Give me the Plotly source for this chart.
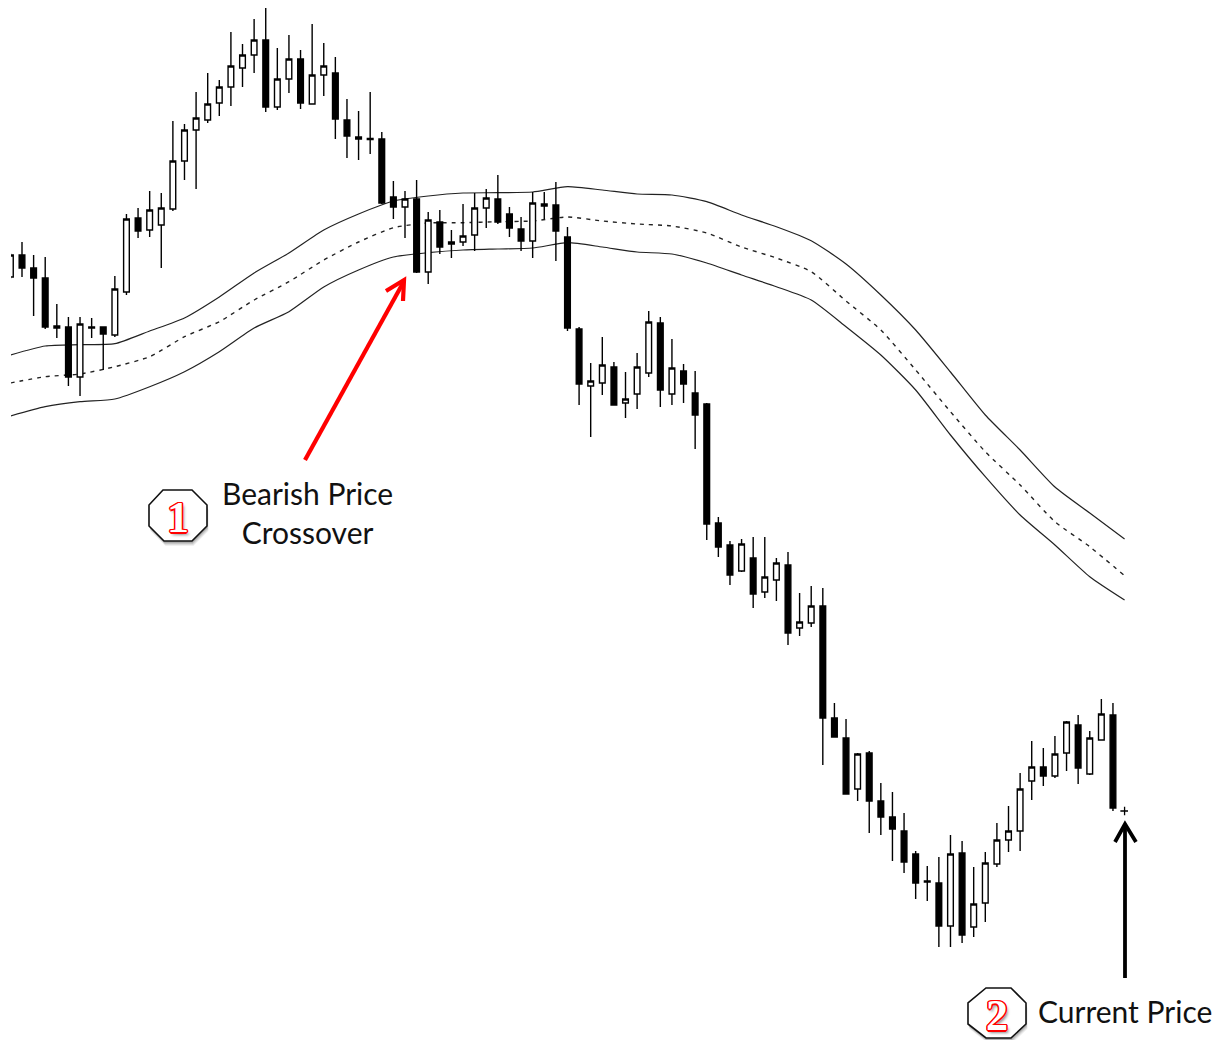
import plotly.graph_objects as go

# Chart scale: levels are read downward from the top of the picture, price = SCALE_TOP - level
SCALE_TOP = 1040
X0_PX, STEP_PX = 22.0, 11.606
W, H = 1222, 1040

candle_index = list(range(-1, 95))

kinds = ("W" "BBBBBWBBWW"  # -1, 0..9
         "BWWWWWWWWW"     # 10..19
         "WBWWBWWBBB"     # 20..29
         "BBBWBWBBWW"     # 30..39
         "WBBBWBBBBW"     # 40..49
         "WBWWWBWBBB"     # 50..59
         "BBWBWWBWWB"     # 60..69
         "BBWBBBBBBB"     # 70..79
         "WBWWWWWWBW"     # 80..89
         "WBWWB")         # 90..94

highs = [253, 242, 255, 257, 304, 317, 317, 318, 327, 276, 214,
         208, 191, 193, 121, 124, 92, 73, 80, 32, 44,
         19, 8, 48, 35, 50, 24, 43, 57, 99, 111,
         92, 132, 181, 191, 180, 212, 210, 230, 204, 193,
         189, 175, 207, 217, 192, 192, 182, 227, 327, 363,
         337, 362, 372, 353, 311, 317, 339, 364, 371, 403,
         517, 541, 539, 537, 537, 558, 552, 593, 586, 588,
         703, 719, 753, 751, 783, 792, 813, 851, 866, 857,
         835, 841, 867, 852, 823, 806, 773, 741, 748, 736,
         721, 715, 731, 699, 703]
body_tops = [255, 255, 268, 278, 326, 327, 324, 327, 327, 289, 219,
             218, 210, 208, 161, 130, 118, 104, 87, 66, 55,
             40, 40, 79, 59, 59, 75, 66, 73, 120, 137,
             138.5, 139, 197, 199, 199, 220, 222, 242, 236, 208,
             198, 199, 214, 229, 203, 204, 205, 237, 329, 381,
             365, 367, 399, 367, 322, 323, 368, 371, 393, 404,
             523, 545, 544, 558, 577, 563, 565, 622, 606, 606,
             718, 738, 754, 753, 801, 817, 831, 854, 881, 883,
             854, 853, 904, 863, 840, 831, 789, 767, 767, 754,
             722, 725, 738, 714, 715]
body_bottoms = [277, 268, 278, 327, 328, 377, 377, 328, 334, 335, 292,
                231, 230, 225, 209, 161, 130, 120, 103, 87, 68,
                55, 107, 107, 79, 103, 104, 75, 119, 136, 139,
                139.5, 203, 207, 207, 272, 272, 247, 244, 242, 235,
                208, 222, 228, 241, 241, 206, 231, 328, 384, 386,
                383, 405, 403, 394, 373, 390, 394, 384, 415, 524,
                547, 575, 571, 594, 592, 580, 633, 628, 623, 718,
                737, 794, 789, 801, 817, 829, 862, 883, 882, 926,
                926, 935, 927, 903, 864, 840, 831, 781, 776, 776,
                753, 768, 774, 740, 808]
lows = [279, 277, 316, 329, 338, 386, 396, 338, 370, 337, 295,
        238, 237, 268, 211, 180, 189, 123, 116, 106, 87,
        73, 112, 110, 93, 109, 104, 96, 139, 158, 160,
        154, 204, 219, 238, 273, 284, 254, 258, 246, 251,
        228, 224, 237, 251, 258, 219, 261, 331, 405, 437,
        395, 405, 418, 409, 377, 407, 405, 403, 449, 540,
        557, 585, 572, 608, 598, 601, 645, 636, 627, 765,
        737, 794, 801, 833, 835, 861, 873, 899, 901, 947,
        947, 943, 937, 922, 867, 852, 851, 800, 786, 778,
        771, 784, 775, 740, 811]

band_index = list(range(-1, 96, 3))
band_upper = [355, 346, 344.7, 343.7, 331, 318, 297, 273, 253, 230, 214, 201, 196, 193, 192.7, 192,
              186.7, 190, 194, 195, 201.7, 215, 226.7, 240.7, 264, 295, 330, 372, 415, 450, 487, 513, 539]
band_middle = [383, 376.7, 374, 366.7, 356.7, 336.7, 321.7, 300, 281.7, 260, 242, 227.7, 223, 222.7, 221.7, 221,
               217, 221, 224, 226, 233, 247, 258, 271.7, 301, 330, 370, 411.7, 451.7, 485, 521.7, 546.7, 575.7]
band_lower = [416, 406.7, 401.7, 399, 386.7, 371.7, 351.7, 328, 311.7, 287, 270, 257, 252.7, 250, 249, 248,
              242.7, 247, 252, 254, 263, 275, 286.7, 300, 326.7, 355, 390, 435, 476.7, 515, 545, 576.7, 600]

current_index = [95]
current_level = [811]

label_one = "Bearish Price<br>Crossover"
label_two = "Current Price"


def price(levels):
    return [SCALE_TOP - v for v in levels]


opens = [t if k == "B" else b for k, t, b in zip(kinds, body_tops, body_bottoms)]
closes = [b if k == "B" else t for k, t, b in zip(kinds, body_tops, body_bottoms)]


def px(x):
    return x / W


def py(y):
    return 1 - y / H


def path(points, close=False):
    s = "M" + " L".join(f"{px(x):.5f},{py(y):.5f}" for x, y in points)
    return s + (" Z" if close else "")


def octagon(points, dx=0.0, dy=0.0):
    return [(x + dx, y + dy) for x, y in points]


fig = go.Figure()

for values, dash, width, name in [(band_upper, "solid", 1.2, "Upper band"),
                                  (band_middle, "4px,5px", 1.4, "Middle band"),
                                  (band_lower, "solid", 1.2, "Lower band")]:
    fig.add_trace(go.Scatter(x=band_index, y=price(values), mode="lines", name=name,
                             line=dict(color="#222222", width=width, dash=dash, shape="spline", smoothing=0.6),
                             showlegend=False))

fig.add_trace(go.Candlestick(x=candle_index, open=price(opens), high=price(highs), low=price(lows), close=price(closes),
                             yaxis="y2", showlegend=False, whiskerwidth=0,
                             increasing=dict(line=dict(color="#000000", width=1.4), fillcolor="#ffffff"),
                             decreasing=dict(line=dict(color="#000000", width=1.4), fillcolor="#000000")))
fig.add_trace(go.Scatter(x=current_index, y=price(current_level), yaxis="y2", mode="markers", showlegend=False,
                         marker=dict(symbol="cross-thin", size=6, line=dict(color="#000000", width=1.3))))

shapes = []
# arrows
shapes.append(dict(type="path", xref="paper", yref="paper", path=path([(305, 460), (403, 283)]),
                   line=dict(color="#ff0000", width=4.2)))
shapes.append(dict(type="path", xref="paper", yref="paper", path=path([(386, 291), (404, 280), (403, 301)]),
                   line=dict(color="#ff0000", width=4.2)))
shapes.append(dict(type="path", xref="paper", yref="paper", path=path([(1125, 978), (1125, 826)]),
                   line=dict(color="#000000", width=3.8)))
shapes.append(dict(type="path", xref="paper", yref="paper", path=path([(1115, 842), (1125, 824), (1136, 842)]),
                   line=dict(color="#000000", width=3.8)))

badge_one = [(163, 490), (192, 490), (207, 505), (207, 526), (192, 541), (164, 541), (149, 526), (149, 505)]
badge_two = [(986, 988), (1011, 988), (1026, 1003), (1026, 1024), (1011, 1038), (986, 1038), (968, 1024), (968, 1003)]
for badge in (badge_one, badge_two):
    for off, alpha in [(5, 0.06), (4, 0.08), (3, 0.10), (2, 0.12)]:
        shapes.append(dict(type="path", xref="paper", yref="paper", path=path(octagon(badge, off * 0.3, off), True),
                           fillcolor=f"rgba(0,0,0,{alpha})", line=dict(width=0)))
    shapes.append(dict(type="path", xref="paper", yref="paper", path=path(badge, True),
                       fillcolor="#ffffff", line=dict(color="#111111", width=1.6)))

RED_OUTLINE = ("1.5px 0 0 #f00,-1.5px 0 0 #f00,0 1.5px 0 #f00,0 -1.5px 0 #f00,"
               "1px 1px 0 #f00,-1px 1px 0 #f00,1px -1px 0 #f00,-1px -1px 0 #f00,2px 3px 3px rgba(0,0,0,.45)")


def note(x, y, text, **font):
    return dict(x=px(x), y=py(y), xref="paper", yref="paper", text=text, showarrow=False,
                xanchor="center", yanchor="middle", align="center", font=font)


text_font = dict(family="Lato", size=30, color="#111111")
annotations = [
    note(307, 512, label_one, **text_font),
    note(1124.5, 1011, label_two, **text_font),
    note(178, 517, "1", family="Liberation Serif", size=44, weight="bold", color="#ffffff", shadow=RED_OUTLINE),
    note(997, 1015, "2", family="Liberation Serif", size=44, weight="bold", color="#ffffff", shadow=RED_OUTLINE),
]

i_left = (11 - X0_PX) / STEP_PX
i_right = (1128 - X0_PX) / STEP_PX
fig.update_layout(
    width=W, height=H, margin=dict(l=0, r=0, t=0, b=0), autosize=False,
    paper_bgcolor="#ffffff", plot_bgcolor="#ffffff", showlegend=False,
    xaxis=dict(domain=[11 / W, 1128 / W], range=[i_left, i_right], visible=False, rangeslider=dict(visible=False)),
    yaxis=dict(domain=[0, 1], range=[0, SCALE_TOP], visible=False),
    yaxis2=dict(domain=[0, 1], range=[0, SCALE_TOP], visible=False, overlaying="y"),
    shapes=shapes, annotations=annotations,
)

fig.write_html("out.html", config=dict(displayModeBar=False),
               post_script="document.body.style.margin='0';document.body.style.overflow='hidden';")
